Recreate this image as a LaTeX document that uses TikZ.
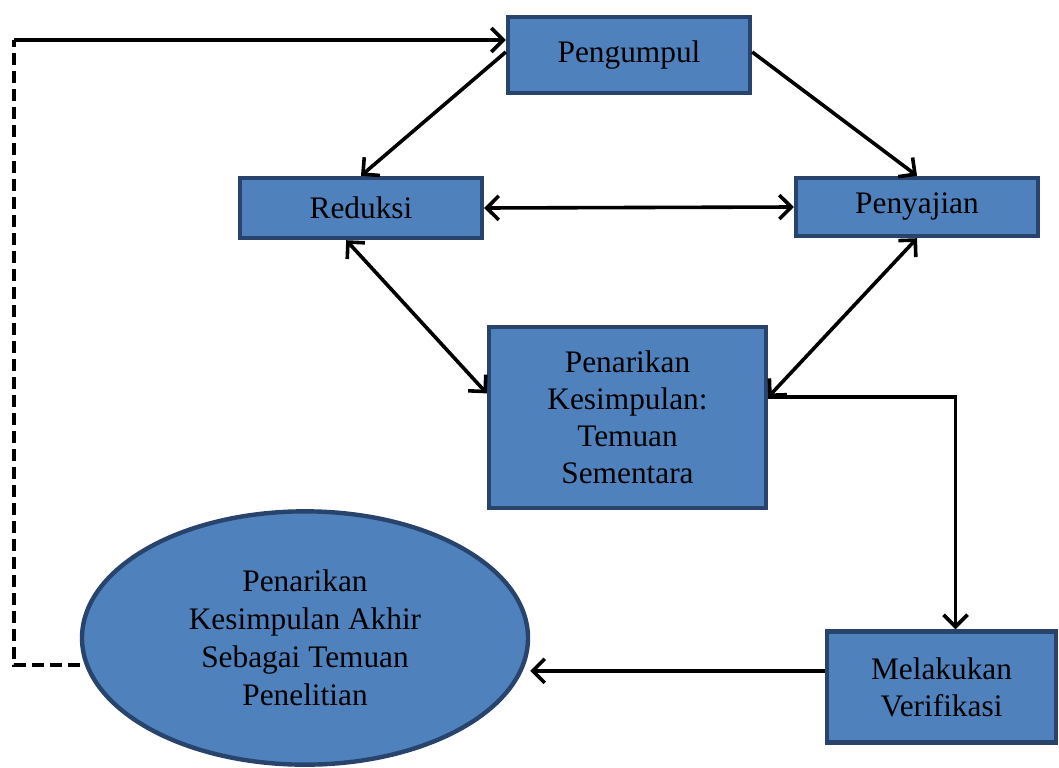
\documentclass[tikz,border=0pt]{standalone}
\usepackage{fontspec}
\setmainfont{Liberation Serif}
\usetikzlibrary{arrows.meta,shapes.geometric,calc}
\definecolor{boxfill}{RGB}{79,129,189}
\definecolor{boxline}{RGB}{40,68,108}
\tikzset{
  box/.style={rectangle, draw=boxline, fill=boxfill, line width=3.3pt, inner sep=0pt, align=center,
    font=\fontsize{23.5pt}{27.75pt}\selectfont},
  oval/.style={ellipse, draw=boxline, fill=boxfill, line width=3.3pt, inner sep=0pt, align=center,
    font=\fontsize{23.5pt}{28.5pt}\selectfont},
  conn/.style={line width=2.7pt, black},
  tip/.style={},
  arr/.style={conn, -{Straight Barb[length=9pt,width=18pt,line width=2.7pt]}},
  darr/.style={conn, {Straight Barb[length=9pt,width=18pt,line width=2.7pt]}-{Straight Barb[length=9pt,width=18pt,line width=2.7pt]}},
  dashline/.style={conn, dash pattern=on 9pt off 4.5pt}
}
\begin{document}
\begin{tikzpicture}[x=0.75pt,y=-0.75pt]
\useasboundingbox (0,0) rectangle (1059,767);
\node[box, minimum width=181.5pt, minimum height=57pt] (peng) at (629,55) {Pengumpul};
\node[box, minimum width=181.5pt, minimum height=45pt] (red) at (361,208) {Reduksi};
\node[box, minimum width=181.5pt, minimum height=43.5pt] (pen) at (917,207) {Penyajian};
\node[box, minimum width=207.75pt, minimum height=135.75pt] (tk) at (627.5,417.5) {Penarikan\\Kesimpulan:\\Temuan\\Sementara};
\node[box, minimum width=171.75pt, minimum height=83.25pt] (ver) at (941.5,687) {Melakukan\\Verifikasi};
\node[oval, minimum width=334.5pt, minimum height=190pt] (ell) at (305,638) {Penarikan\\Kesimpulan Akhir\\Sebagai Temuan\\Penelitian};

\coordinate (c1) at (14,40);
\coordinate (c2) at (14,665);
\draw[dashline] (ell.west |- c2) -- (c2) -- (c1);
\draw[arr] (c1) -- (peng.west |- c1);

\draw[arr] (peng.west) ++(0,-3) -- (red.north);
\draw[arr] (peng.east) ++(0,-3) -- (pen.north);
\draw[darr] (red.east) -- (pen.west);

\coordinate (redS) at ($(red.south west)!0.44!(red.south east)$);
\coordinate (tkW) at ($(tk.north west)!0.37!(tk.south west)$);
\coordinate (tkE) at ($(tk.north east)!0.39!(tk.south east)$);
\coordinate (verN) at ($(ver.north west)!0.56!(ver.north east)$);
\coordinate (verW) at ($(ver.north west)!0.36!(ver.south west)$);

\draw[darr] (redS) -- (tkW);
\draw[darr] (pen.south) -- (tkE);
\draw[arr] (tkE) -| (verN);
\draw[arr] (verW) -- (ell.east |- verW);
\end{tikzpicture}
\end{document}
